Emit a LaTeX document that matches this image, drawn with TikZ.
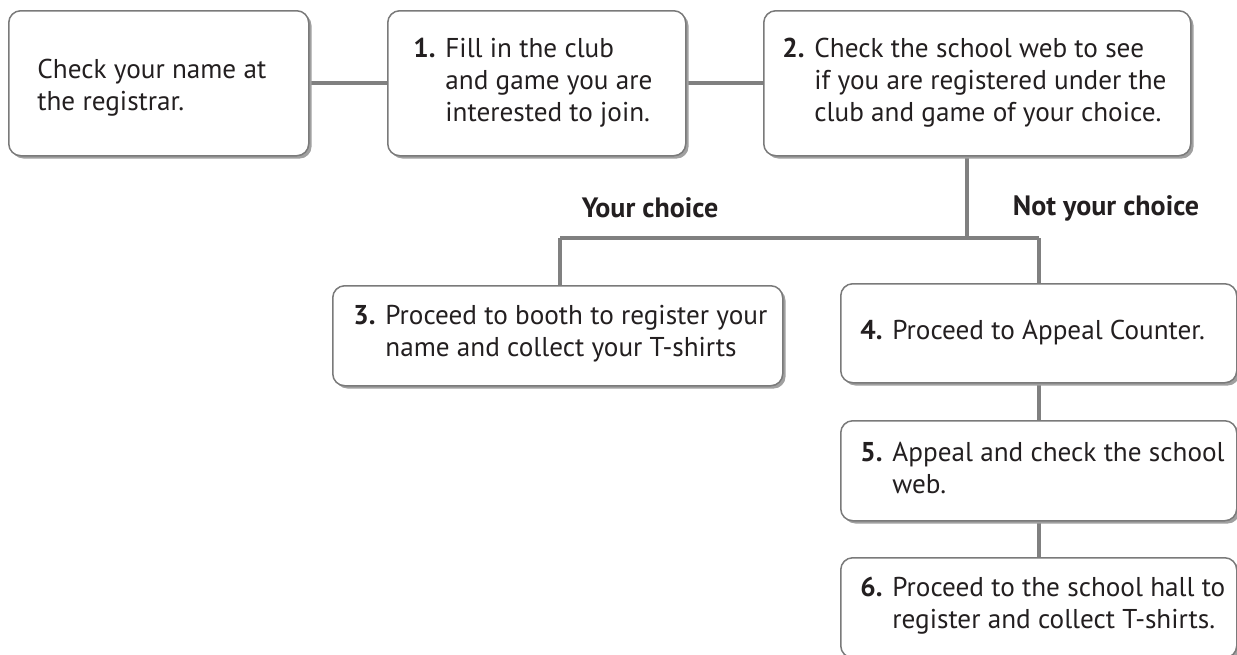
\documentclass[tikz,border=0pt]{standalone}
\usepackage{fontspec}
\setmainfont{PT Sans}
\usetikzlibrary{shadows,backgrounds}
\definecolor{edge}{HTML}{7A7A7A}
\definecolor{shade}{HTML}{A0A0A0}
\definecolor{conn}{HTML}{808080}
\definecolor{ink}{HTML}{231F20}
\tikzset{
  stepbox/.style={draw=edge, line width=0.75pt, rounded corners=6pt, fill=white,
    anchor=north west, inner sep=0pt,
    drop shadow={shadow xshift=1.4pt, shadow yshift=-1.4pt, fill=shade, opacity=1}},
  steptext/.style={anchor=west, inner sep=0pt, align=left, text=ink,
    font=\fontsize{13.6}{16}\selectfont},
  link/.style={draw=conn, line width=2pt},
  choice/.style={inner sep=0pt, text=ink, font=\fontsize{14}{16}\selectfont\bfseries}
}
\newcommand{\nb}[1]{\makebox[16pt][l]{\textbf{#1}}}
\begin{document}
\begin{tikzpicture}[x=0.5pt,y=-0.5pt]
\useasboundingbox (0,0) rectangle (1237,654);
% boxes
\node[stepbox, minimum width=150pt, minimum height=72.5pt] (b0) at (8,10) {};
\node[stepbox, minimum width=149pt, minimum height=72.5pt] (b1) at (387,10) {};
\node[stepbox, minimum width=213.5pt, minimum height=72.5pt] (b2) at (763,10) {};
\node[stepbox, minimum width=225pt, minimum height=50pt] (b3) at (332,285) {};
\node[stepbox, minimum width=198pt, minimum height=49.5pt] (b4) at (840,283) {};
\node[stepbox, minimum width=198pt, minimum height=50pt] (b5) at (840,420) {};
\node[stepbox, minimum width=198pt, minimum height=50pt] (b6) at (840,557) {};
% texts
\node[steptext] (t0) at ([xshift=14.5pt,yshift=-2pt]b0.west) {Check your name at\\the registrar.};
\node[steptext] (t1) at ([xshift=13pt,yshift=0pt]b1.west) {\begin{tabular}{@{}l@{}l@{}}\nb{1.}&Fill in the club\\&and game you are\\&interested to join.\end{tabular}};
\node[steptext] (t2) at ([xshift=9.5pt]b2.west) {\begin{tabular}{@{}l@{}l@{}}\nb{2.}&Check the school web to see\\&if you are registered under the\\&club and game of your choice.\end{tabular}};
\node[steptext] (t3) at ([xshift=10.5pt,yshift=1pt]b3.west) {\begin{tabular}{@{}l@{}l@{}}\nb{3.}&Proceed to booth to register your\\&name and collect your T-shirts\end{tabular}};
\node[steptext] (t4) at ([xshift=10pt]b4.west) {\begin{tabular}{@{}l@{}l@{}}\nb{4.}&Proceed to Appeal Counter.\end{tabular}};
\node[steptext] (t5) at ([xshift=10pt]b5.west) {\begin{tabular}{@{}l@{}l@{}}\nb{5.}&Appeal and check the school\\&web.\end{tabular}};
\node[steptext] (t6) at ([xshift=10pt,yshift=1pt]b6.west) {\begin{tabular}{@{}l@{}l@{}}\nb{6.}&Proceed to the school hall to\\&register and collect T-shirts.\end{tabular}};
% connectors
\coordinate (split) at (967,238);
\coordinate (sl) at (560,238);
\coordinate (sr) at (1039,238);
\begin{scope}[on background layer]
\draw[link] (b0.east) -- (b1.west);
\draw[link] (b1.east) -- (b2.west);
\draw[link] (b2.south -| split) -- (split);
\draw[link] (sl) -- (sr);
\draw[link] (sl) -- (b3.north -| sl);
\draw[link] (sr) -- (b4.north -| sr);
\draw[link] (b4.south -| sr) -- (b5.north -| sr);
\draw[link] (b5.south -| sr) -- (b6.north -| sr);
\end{scope}
% labels
\node[choice] (l1) at (650,208) {Your choice};
\node[choice] (l2) at (1106,208) {Not your choice};
\end{tikzpicture}
\end{document}
